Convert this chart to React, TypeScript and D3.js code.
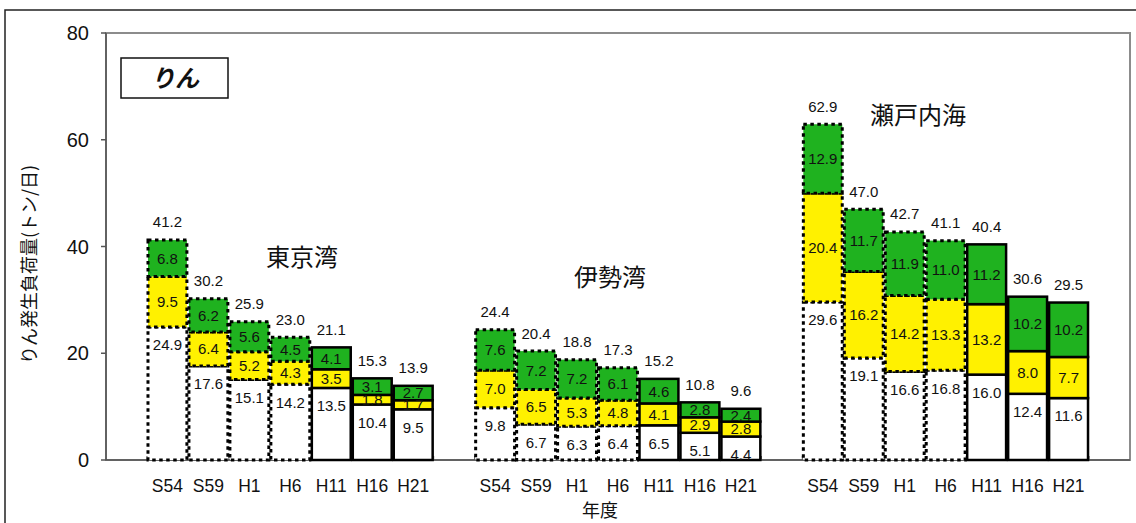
import React from "react";
import * as d3 from "d3";

const regions = ["東京湾", "伊勢湾", "瀬戸内海"];
const years = ["S54", "S59", "H1", "H6", "H11", "H16", "H21"];
// 最初の4年度は点線枠
const dashedYears = ["S54", "S59", "H1", "H6"];

const whiteVals = [
  [24.9, 17.6, 15.1, 14.2, 13.5, 10.4, 9.5],
  [9.8, 6.7, 6.3, 6.4, 6.5, 5.1, 4.4],
  [29.6, 19.1, 16.6, 16.8, 16.0, 12.4, 11.6],
];
const yellowVals = [
  [9.5, 6.4, 5.2, 4.3, 3.5, 1.8, 1.7],
  [7.0, 6.5, 5.3, 4.8, 4.1, 2.9, 2.8],
  [20.4, 16.2, 14.2, 13.3, 13.2, 8.0, 7.7],
];
const greenVals = [
  [6.8, 6.2, 5.6, 4.5, 4.1, 3.1, 2.7],
  [7.6, 7.2, 7.2, 6.1, 4.6, 2.8, 2.4],
  [12.9, 11.7, 11.9, 11.0, 11.2, 10.2, 10.2],
];
const totals = [
  [41.2, 30.2, 25.9, 23.0, 21.1, 15.3, 13.9],
  [24.4, 20.4, 18.8, 17.3, 15.2, 10.8, 9.6],
  [62.9, 47.0, 42.7, 41.1, 40.4, 30.6, 29.5],
];
const yTicks = [0, 20, 40, 60, 80];

const W = 1136;
const H = 523;
const M = { l: 106, r: 6, t: 33, b: 63 };
const FONT = "'Liberation Sans', Arial, sans-serif";
const JP = "'Noto Sans CJK JP', sans-serif";
const GREEN = "#1fb21f";
const YELLOW = "#fff100";

// slot keys: blank, 7 bars, blank, 7 bars, blank, 7 bars, blank
const slots: string[] = ["gap0"];
regions.forEach((r, ri) => {
  years.forEach((y) => slots.push(`${r}-${y}`));
  slots.push(`gap${ri + 1}`);
});

export default function App() {
  const x = d3
    .scaleBand<string>()
    .domain(slots)
    .range([M.l, W - M.r])
    .paddingInner(0.05)
    .paddingOuter(0.025);
  const y = d3.scaleLinear().domain([0, 80]).range([H - M.b, M.t]);
  const step = x.step();
  const bw = x.bandwidth();

  const regionLabelPos = [
    { x: 302, v: 38 },
    { x: 610, v: 34.2 },
    { x: 918, v: 64.6 },
  ];

  return (
    <svg width={W} height={H} style={{ position: "absolute", left: 0, top: 0 }}>
      <rect x={0} y={0} width={W} height={H} fill="#fff" />
      {/* outer frame */}
      <rect x={5} y={10} width={W + 20} height={H + 20} fill="none" stroke="#222" strokeWidth={1.5} />
      {/* plot frame */}
      <rect
        x={M.l}
        y={M.t}
        width={W - M.r - M.l}
        height={H - M.b - M.t}
        fill="none"
        stroke="#8c8c8c"
        strokeWidth={2}
      />
      <line x1={M.l} x2={M.l} y1={M.t} y2={H - M.b} stroke="#555" strokeWidth={1.5} />
      <line x1={M.l} x2={W - M.r} y1={H - M.b} y2={H - M.b} stroke="#555" strokeWidth={1.5} />

      {/* y axis */}
      {yTicks.map((t) => (
        <g key={t}>
          <line x1={M.l - 5} x2={M.l} y1={y(t)} y2={y(t)} stroke="#555" strokeWidth={1.5} />
          <text x={M.l - 17} y={y(t)} dy="0.35em" textAnchor="end" fontFamily={FONT} fontSize={20} fill="#111">
            {t}
          </text>
        </g>
      ))}
      {/* x ticks between categories */}
      {slots.slice(1).map((s) => (
        <line
          key={s}
          x1={(x(s) as number) - step * 0.025}
          x2={(x(s) as number) - step * 0.025}
          y1={H - M.b}
          y2={H - M.b - 4}
          stroke="#555"
          strokeWidth={1}
        />
      ))}

      {/* bars */}
      {regions.map((r, ri) =>
        years.map((yr, yi) => {
          const key = `${r}-${yr}`;
          const x0 = x(key) as number;
          const dashed = dashedYears.includes(yr);
          const wv = whiteVals[ri][yi];
          const yv = yellowVals[ri][yi];
          const gv = greenVals[ri][yi];
          const segs = [
            { v0: 0, v1: wv, fill: "#fff", label: wv },
            { v0: wv, v1: wv + yv, fill: YELLOW, label: yv },
            { v0: wv + yv, v1: wv + yv + gv, fill: GREEN, label: gv },
          ];
          const stroke = {
            stroke: "#000",
            strokeWidth: dashed ? 3 : 2.5,
            strokeDasharray: dashed ? "3.5,3.5" : undefined,
          };
          return (
            <g key={key}>
              {segs.map((s, si) => (
                <rect
                  key={si}
                  x={x0}
                  y={y(s.v1)}
                  width={bw}
                  height={y(s.v0) - y(s.v1)}
                  fill={s.fill}
                  {...stroke}
                />
              ))}
              {segs.map((s, si) => (
                <text
                  key={`l${si}`}
                  x={x0 + bw / 2}
                  y={si === 0 ? y(s.v1) + 18 : (y(s.v0) + y(s.v1)) / 2}
                  dy="0.36em"
                  textAnchor="middle"
                  fontFamily={FONT}
                  fontSize={15}
                  fill="#111"
                >
                  {s.label.toFixed(1)}
                </text>
              ))}
              <text
                x={x0 + bw / 2}
                y={y(totals[ri][yi]) - 18}
                dy="0.36em"
                textAnchor="middle"
                fontFamily={FONT}
                fontSize={15}
                fill="#111"
              >
                {totals[ri][yi].toFixed(1)}
              </text>
              <text
                x={x0 + bw / 2}
                y={486}
                dy="0.35em"
                textAnchor="middle"
                fontFamily={FONT}
                fontSize={17.5}
                fill="#111"
              >
                {yr}
              </text>
            </g>
          );
        })
      )}

      {/* region labels */}
      {regions.map((r, ri) => (
        <text
          key={r}
          x={regionLabelPos[ri].x}
          y={y(regionLabelPos[ri].v)}
          dy="0.35em"
          textAnchor="middle"
          fontFamily={JP}
          fontSize={24}
          fill="#111"
        >
          {r}
        </text>
      ))}

      {/* legend box */}
      <rect x={121} y={58} width={107} height={40} fill="#fff" stroke="#111" strokeWidth={1.5} />
      <text x={175} y={78} dy="0.36em" textAnchor="middle" fontFamily={JP} fontSize={24} fontWeight="bold" fontStyle="italic" fill="#111">
        りん
      </text>

      {/* axis titles */}
      <text x={600} y={511} dy="0.35em" textAnchor="middle" fontFamily={JP} fontSize={18} fill="#111">
        年度
      </text>
      <text
        transform={`translate(30, ${(M.t + H - M.b) / 2 + 18}) rotate(-90)`}
        textAnchor="middle"
        dy="0.35em"
        fontFamily={JP}
        fontSize={18}
        fill="#111"
      >
        りん発生負荷量(トン/日)
      </text>
    </svg>
  );
}
